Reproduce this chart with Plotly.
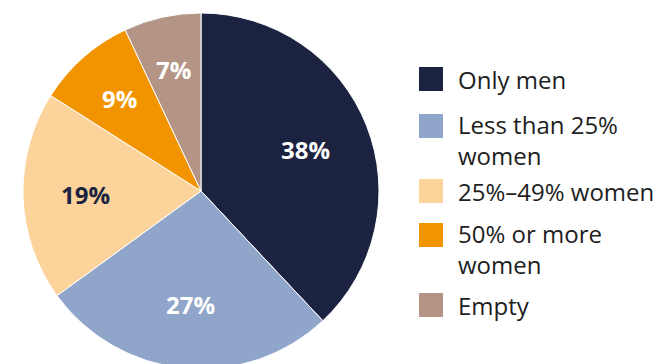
import math
import plotly.graph_objects as go

# Share of teams by gender composition
labels = ["Only men", "Less than 25% women", "25%–49% women", "50% or more women", "Empty"]
legend_lines = [["Only men"], ["Less than 25%", "women"], ["25%–49% women"], ["50% or more", "women"], ["Empty"]]
values = [38, 27, 19, 9, 7]
colors = ["#1b2340", "#8fa5c9", "#fbd39b", "#f29400", "#b49585"]
text_colors = ["#ffffff", "#ffffff", "#1b2340", "#ffffff", "#ffffff"]

W, H = 657, 369
TOP = 13
PH = H - TOP  # plot-area height in px
CX, CY, R = 201, TOP + PH / 2, PH / 2

fig = go.Figure()
fig.add_trace(go.Pie(
    labels=labels,
    values=values,
    sort=False,
    direction="clockwise",
    rotation=0,
    marker=dict(colors=colors, line=dict(color="#ffffff", width=1)),
    textinfo="none",
    showlegend=False,
    hoverinfo="label+percent",
    domain=dict(x=[0, 2 * CX / W], y=[0, 1]),
))


def px(x):
    return x / W


def py(y):
    return 1 - (y - TOP) / PH


# Value labels placed along each slice's bisector
label_radius = [0.63, 0.64, 0.65, 0.69, 0.70]
total = sum(values)
cum = 0
for v, tc, f in zip(values, text_colors, label_radius):
    theta = 2 * math.pi * (cum + v / 2) / total
    cum += v
    lx = CX + R * f * math.sin(theta)
    ly = CY - R * f * math.cos(theta)
    fig.add_annotation(xref="paper", yref="paper", x=px(lx), y=py(ly),
                       xanchor="center", yanchor="middle", showarrow=False,
                       text=f"<b>{v}%</b>",
                       font=dict(family="Open Sans", size=24, color=tc))

# Legend: swatch + (possibly wrapped) label for each category
legend_mid = [79, 126, 191, 235, 305]
sw = 24
line_gap = 28
for lines, col, mid in zip(legend_lines, colors, legend_mid):
    fig.add_shape(type="rect", xref="paper", yref="paper",
                  x0=px(419), x1=px(419 + sw),
                  y0=py(mid + sw / 2), y1=py(mid - sw / 2),
                  fillcolor=col, line=dict(width=0))
    block_mid = mid + (len(lines) - 1) * line_gap / 2
    fig.add_annotation(xref="paper", yref="paper", x=px(456), y=py(block_mid),
                       xanchor="left", yanchor="middle", align="left", showarrow=False,
                       text="<br>".join(lines),
                       font=dict(family="Open Sans", size=24, color="#1e1e1e"))

fig.update_layout(
    width=W, height=H,
    margin=dict(l=0, r=0, t=TOP, b=0),
    paper_bgcolor="#ffffff",
    plot_bgcolor="#ffffff",
)
fig.write_html("out.html", post_script="document.body.style.overflow='hidden';")
